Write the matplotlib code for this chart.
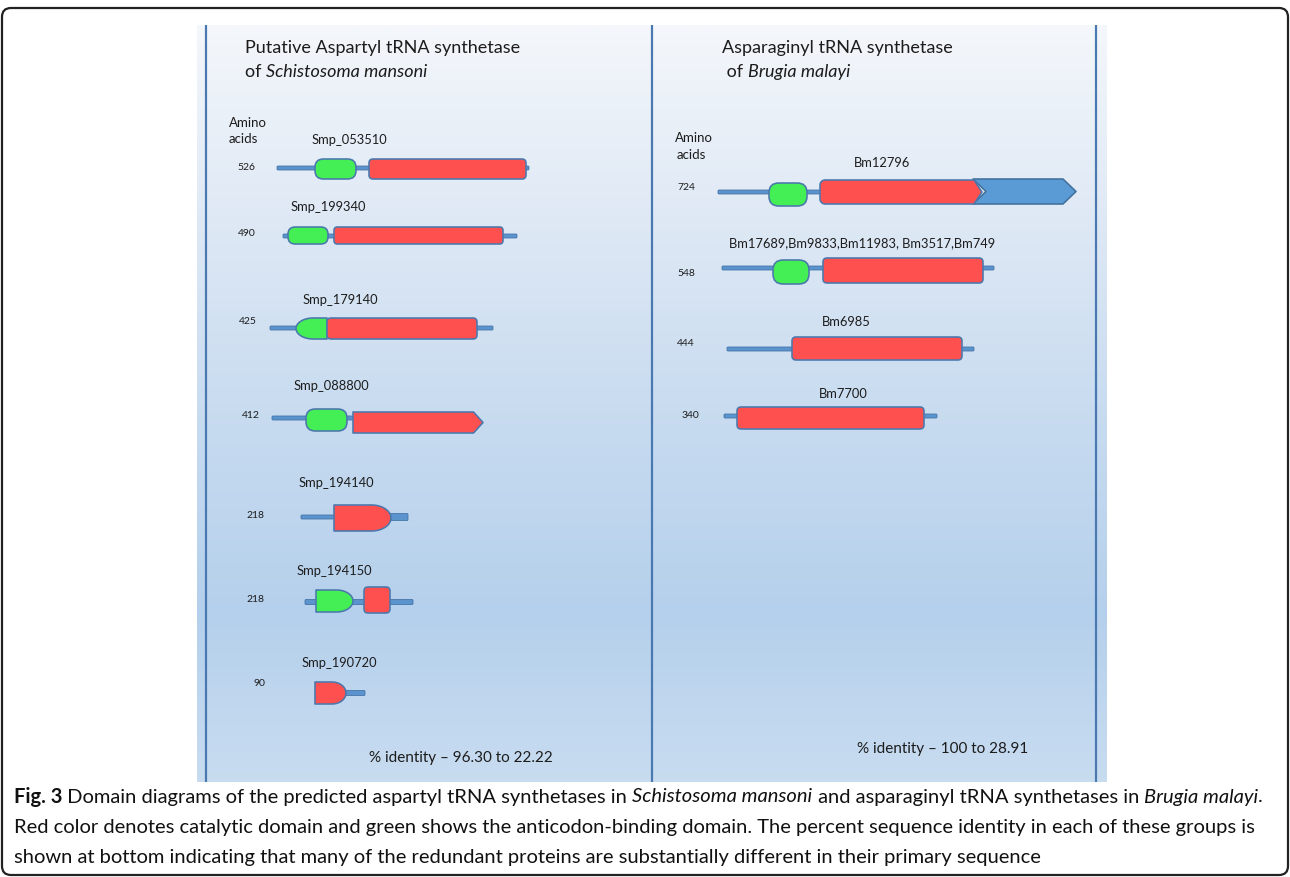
import numpy as np
import matplotlib
matplotlib.use("Agg")
import matplotlib.pyplot as plt
from matplotlib.patches import FancyBboxPatch, Polygon
from matplotlib.colors import LinearSegmentedColormap

# ---------------- data (diagram units) ----------------
left_title = ["Putative Aspartyl tRNA synthetase", "of ", "Schistosoma mansoni"]
right_title = ["Asparaginyl tRNA synthetase", " of ", "Brugia malayi"]

smp_names = ["Smp_053510", "Smp_199340", "Smp_179140", "Smp_088800",
             "Smp_194140", "Smp_194150", "Smp_190720"]
smp_lengths = [526, 490, 425, 412, 218, 218, 90]
# backbone segments per protein: (start, end, thickness)
smp_lines = [
    [(277, 529, 4)],
    [(283, 517, 4)],
    [(270, 493, 4)],
    [(272, 460, 4)],
    [(301, 336, 4), (389, 408, 7)],
    [(305, 413, 5)],
    [(344, 365, 5)],
]
# domains per protein: (kind, shape, start, end, top, bottom)
smp_domains = [
    [("anticodon", "pill", 315, 356, 159, 179), ("catalytic", "rect", 369, 526, 159, 179)],
    [("anticodon", "pill", 288, 328, 227, 244), ("catalytic", "rect", 334, 503, 227, 244)],
    [("anticodon", "lbullet", 296, 327, 318, 339), ("catalytic", "rect", 327, 477, 318, 339)],
    [("anticodon", "pill", 306, 347, 409, 431), ("catalytic", "arrow", 353, 483, 412, 433)],
    [("catalytic", "rbullet", 334, 391, 505, 531)],
    [("anticodon", "rbullet", 316, 353, 590, 612), ("catalytic", "rect", 364, 390, 587, 613)],
    [("catalytic", "rbullet", 315, 346, 682, 704)],
]

bm_names = ["Bm12796", "Bm17689,Bm9833,Bm11983, Bm3517,Bm749", "Bm6985", "Bm7700"]
bm_lengths = [724, 548, 444, 340]
bm_lines = [
    [(718, 830, 4)],
    [(722, 994, 4)],
    [(727, 974, 4)],
    [(724, 937, 4)],
]
bm_domains = [
    [("anticodon", "pill", 769, 807, 183, 206), ("extra", "chevron", 973, 1076, 179, 204),
     ("catalytic", "rpoint", 820, 982, 180, 204)],
    [("anticodon", "pill", 773, 809, 260, 284), ("catalytic", "rect", 823, 983, 258, 283)],
    [("catalytic", "rect", 792, 962, 337, 360)],
    [("catalytic", "rect", 737, 924, 407, 429)],
]

identity_text = ["% identity \u2013 96.30 to 22.22", "% identity \u2013 100 to 28.91"]

caption_lines = [
    [("Fig. 3", "bold"), (" Domain diagrams of the predicted aspartyl tRNA synthetases in ", "normal"),
     ("Schistosoma mansoni", "italic"), (" and asparaginyl tRNA synthetases in ", "normal"),
     ("Brugia malayi", "italic"), (".", "normal")],
    [("Red color denotes catalytic domain and green shows the anticodon-binding domain. "
      "The percent sequence identity in each of these groups is", "normal")],
    [("shown at bottom indicating that many of the redundant proteins are substantially "
      "different in their primary sequence", "normal")],
]

# ---------------- layout / style ----------------
W, H = 1290, 877
FONT = "Lato"
CAPFONT = "Lato"
TXT = "#1c1c1c"
EDGE = "#4a78ad"
COL = {"catalytic": "#ff5050", "anticodon": "#44ee55", "extra": "#5b9bd5"}
LINE_FC = "#5b93cc"
PX = 0.72  # one pixel in points

smp_label_pos = [(312, 140), (291, 207), (303, 300), (294, 386), (299, 483), (297, 571), (302, 663)]
smp_len_pos = [(237, 167), (238, 233), (239, 322), (242, 416), (246, 516), (246, 600), (254, 683)]
smp_line_y = [168, 236, 328, 418, 517, 602, 693]
bm_label_pos = [(854, 163), (729, 243), (822, 322), (819, 394)]
bm_len_pos = [(677, 188), (677, 273), (677, 344), (682, 416)]
bm_line_y = [192, 268, 349, 416]
caption_y = [797, 827, 857]
caption_x = 14
caption_line3_right = 1045

fig = plt.figure(figsize=(W / 100, H / 100), dpi=100)
ax = fig.add_axes([0, 0, 1, 1])
ax.set_xlim(0, W)
ax.set_ylim(H, 0)
ax.axis("off")
renderer = fig.canvas.get_renderer()

# outer frame
ax.add_patch(FancyBboxPatch((2, 8), W - 4, H - 10, boxstyle="round,pad=0,rounding_size=9",
                            fc="white", ec="#222222", lw=1.6, zorder=0))

# panel gradient
stops = [(0.0, "#f4f7fb"), (0.25, "#dfe9f5"), (0.5, "#c9dcf0"), (0.78, "#b5d0ec"), (1.0, "#c8dcf0")]
cmap = LinearSegmentedColormap.from_list("bg", stops)
grad = np.linspace(0, 1, 400).reshape(-1, 1)
ax.imshow(grad, cmap=cmap, extent=(197, 1107, 782, 25), aspect="auto", zorder=1)
for xv in (206, 652, 1096):
    ax.plot([xv, xv], [25, 782], color="#4a78b0", lw=2.2 * PX, zorder=2, solid_capstyle="butt")


def draw_domain(kind, shape, x0, x1, y0, y1):
    fc = COL[kind]
    kw = dict(fc=fc, ec=EDGE, lw=1.6 * PX, zorder=5, joinstyle="round")
    h = y1 - y0
    yc = (y0 + y1) / 2
    if shape == "pill":
        r = h * 0.42
        ax.add_patch(FancyBboxPatch((x0, y0), x1 - x0, h, boxstyle=f"round,pad=0,rounding_size={r}", **kw))
    elif shape == "rect":
        r = min(4, h * 0.2)
        ax.add_patch(FancyBboxPatch((x0, y0), x1 - x0, h, boxstyle=f"round,pad=0,rounding_size={r}", **kw))
    elif shape == "rbullet":
        w = min((x1 - x0) * 0.45, h * 0.75)
        t = np.linspace(-np.pi / 2, np.pi / 2, 30)
        arc = np.column_stack([x1 - w + w * np.cos(t), yc + h / 2 * np.sin(t)])
        pts = np.vstack([[x0, y0], arc, [x0, y1]])
        ax.add_patch(Polygon(pts, closed=True, **kw))
    elif shape == "lbullet":
        w = (x1 - x0) * 0.55
        t = np.linspace(np.pi / 2, 3 * np.pi / 2, 30)
        arc = np.column_stack([x0 + w + w * np.cos(t), yc - h / 2 * np.sin(t)])
        pts = np.vstack([[x1, y0], arc, [x1, y1]])
        ax.add_patch(Polygon(pts, closed=True, **kw))
    elif shape == "arrow":
        tip = h * 0.45
        pts = [(x0, y0), (x1 - tip, y0), (x1, yc), (x1 - tip, y1), (x0, y1)]
        ax.add_patch(Polygon(pts, closed=True, **kw))
    elif shape == "chevron":
        tip = 13
        pts = [(x0, y0), (x1 - tip, y0), (x1, yc), (x1 - tip, y1), (x0, y1), (x0 + tip, yc)]
        ax.add_patch(Polygon(pts, closed=True, **dict(kw, ec="#41719c", zorder=4)))
    elif shape == "rpoint":
        r = 5
        tip = 8
        tb = np.linspace(np.pi / 2, np.pi, 8)
        bl = np.column_stack([x0 + r + r * np.cos(tb), y1 - r + r * np.sin(tb)])
        tt = np.linspace(np.pi, 1.5 * np.pi, 8)
        tl = np.column_stack([x0 + r + r * np.cos(tt), y0 + r + r * np.sin(tt)])
        pts = np.vstack([[x1 - tip, y0], [x1, yc], [x1 - tip, y1], bl, tl])
        ax.add_patch(Polygon(pts, closed=True, **kw))


def draw_line(x0, x1, y, th):
    ax.add_patch(FancyBboxPatch((x0, y - th / 2), x1 - x0, th, boxstyle="round,pad=0,rounding_size=1",
                                fc=LINE_FC, ec="#4472a8", lw=0.8 * PX, zorder=3))


for segs, y in zip(smp_lines + bm_lines, smp_line_y + bm_line_y):
    for x0, x1, th in segs:
        draw_line(x0, x1, y, th)
for doms in smp_domains + bm_domains:
    for d in doms:
        draw_domain(*d)

for name, (x, y) in zip(smp_names + bm_names, smp_label_pos + bm_label_pos):
    ax.text(x, y, name, fontsize=9.3, family=FONT, color=TXT, ha="left", va="center", zorder=6)
for ln, (x, y) in zip(smp_lengths + bm_lengths, smp_len_pos + bm_len_pos):
    ax.text(x, y, str(ln), fontsize=7.5, family=FONT, color=TXT, ha="left", va="center", zorder=6)

for (x, y1, y2, dx) in [(229, 123, 139, 0), (675, 138, 155, 2)]:
    ax.text(x, y1, "Amino", fontsize=9.5, family=FONT, color=TXT, ha="left", va="center", zorder=6)
    ax.text(x + dx, y2, "acids", fontsize=9.5, family=FONT, color=TXT, ha="left", va="center", zorder=6)


def rich(x, y, pieces, size, family, color=TXT, draw=True):
    x_start = x
    made = []
    for s, style in pieces:
        t = ax.text(x, y, s, fontsize=size, family=family, color=color, ha="left", va="center",
                    fontweight="bold" if style == "bold" else "normal",
                    fontstyle="italic" if style == "italic" else "normal", zorder=6)
        bb = t.get_window_extent(renderer)
        x += bb.width
        made.append(t)
    if not draw:
        for t in made:
            t.remove()
    return x - x_start


ax.text(245, 48, left_title[0], fontsize=13, family=FONT, color=TXT, va="center", zorder=6)
rich(245, 72, [(left_title[1], "normal"), (left_title[2], "italic")], 13, FONT)
ax.text(722, 48, right_title[0], fontsize=13, family=FONT, color=TXT, va="center", zorder=6)
rich(722, 72, [(right_title[1], "normal"), (right_title[2], "italic")], 13, FONT)

ax.text(369, 758, identity_text[0], fontsize=11, family=FONT, color=TXT, va="center", zorder=6)
ax.text(857, 749, identity_text[1], fontsize=11, family=FONT, color=TXT, va="center", zorder=6)

# caption: choose the font size so that the last line spans the same width as in the figure
w10 = rich(caption_x, caption_y[2], caption_lines[2], 10, CAPFONT, draw=False)
cap_size = 10 * (caption_line3_right - caption_x) / w10
for pieces, y in zip(caption_lines, caption_y):
    rich(caption_x, y, pieces, cap_size, CAPFONT, color="#111111")

fig.savefig("out.png", dpi=100)
